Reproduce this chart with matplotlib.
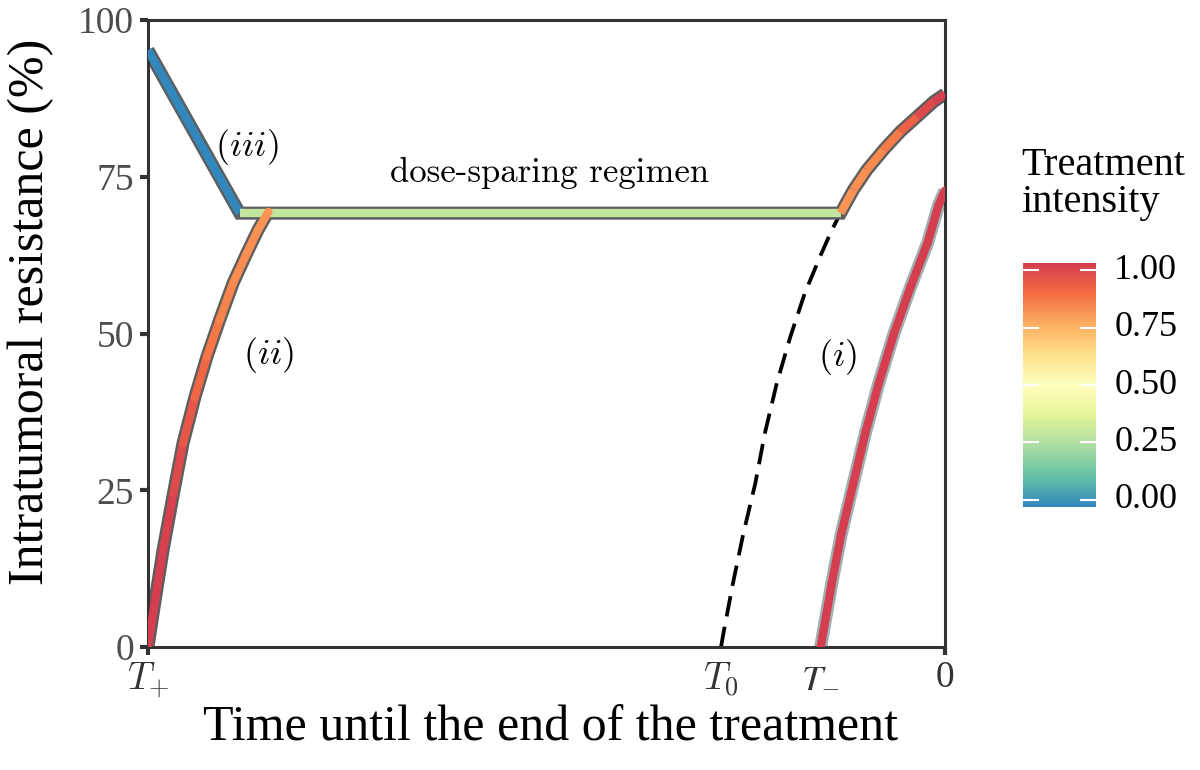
import numpy as np
import matplotlib
matplotlib.use("Agg")
from matplotlib import pyplot as plt
from matplotlib.collections import LineCollection
from matplotlib.colors import LinearSegmentedColormap

plt.rcParams['font.family'] = ['Liberation Serif', 'DejaVu Serif']
plt.rcParams['mathtext.fontset'] = 'cm'

# ColorBrewer Spectral (9 classes), blue -> red
spectral9 = ["#3288bd", "#66c2a5", "#abdda4", "#e6f598", "#ffffbf",
             "#fee08b", "#fdae61", "#f46d43", "#d53e4f"]
cmap = LinearSegmentedColormap.from_list("spectral9_r", spectral9)

# time until end of treatment (T+ = -100, end = 0), resistance in %
# (iii) + dose-sparing plateau + final climb
iii_t = [-100, -88.5]
iii_r = [95.2, 69.2]
iii_c = [0.0, 0.0]
plateau_t = [-88.5, -13.1]
plateau_r = [69.2, 69.2]
plateau_c = [0.3, 0.3]
climb_t = [-13.1, -11.5, -9.8, -7.7, -5.6, -3.5, -1.4, 0]
climb_r = [69.2, 72.9, 76.1, 79.3, 82.2, 84.6, 87.0, 88.2]
climb_c = [0.8, 0.8, 0.81, 0.83, 0.87, 0.94, 0.99, 1.0]

# (ii)
ii_t = [-100, -99.1, -98.1, -96.8, -95.6, -94.1, -92.6, -91.0, -89.3, -87.6, -86.2, -84.9]
ii_r = [0, 7.5, 15.5, 24.5, 32.5, 39.9, 46.3, 52.2, 58.1, 62.8, 66.5, 69.4]
ii_c = [1.0, 1.0, 1.0, 0.98, 0.95, 0.91, 0.87, 0.84, 0.82, 0.81, 0.8, 0.8]

# dashed (untreated extrapolation)
dash_t = [-28.1, -27.8, -26.6, -25.3, -23.8, -22.6, -21.1, -19.4, -17.6, -15.7, -14.2, -13.1]
dash_r = [0, 2.2, 10.2, 18.1, 26.1, 34.1, 42.1, 49.5, 56.4, 62.2, 66.5, 69.2]

# (i)
i_t = [-15.6, -14.2, -13.0, -11.5, -10.0, -8.3, -6.4, -4.3, -2.2, -0.8, 0]
i_r = [0, 10.2, 18.1, 26.1, 34.1, 42.1, 50.0, 57.5, 64.4, 70.5, 72.8]
i_c = [1.0] * len(i_t)

x_ticks = [-100, -28.1, -15.6, 0]
x_labels = [r"$T_{+}$", r"$T_0$", r"$T_{-}$", "0"]
y_ticks = [0, 25, 50, 75, 100]
cbar_ticks = [0.0, 0.25, 0.5, 0.75, 1.0]

OUT_LW = 9.4
CORE_LW = 6.0


def colour_segments(ax, t, r, c, cap="butt"):
    pts = np.column_stack([t, r])
    segs = [pts[k:k + 2] for k in range(len(pts) - 1)]
    lc = LineCollection(segs, cmap=cmap, norm=plt.Normalize(0, 1),
                        linewidths=CORE_LW, capstyle=cap, joinstyle="round", zorder=3)
    lc.set_array(np.array([(c[k] + c[k + 1]) / 2 for k in range(len(c) - 1)]))
    ax.add_collection(lc)


fig = plt.figure(figsize=(12, 7.7), dpi=100)
ax = fig.add_axes([0.1233, 0.1597, 0.6642, 0.8143])

ax.plot(dash_t, dash_r, color="black", lw=2.7, dashes=(5.5, 2.8), zorder=2)

# outline of main trajectory drawn as one path so corners join cleanly
main_t = iii_t + plateau_t[1:] + climb_t[1:]
main_r = iii_r + plateau_r[1:] + climb_r[1:]
ax.plot(main_t, main_r, color="#5e5e5e", lw=OUT_LW, solid_capstyle="butt",
        solid_joinstyle="miter", zorder=2)
for t, r, c in [(iii_t, iii_r, iii_c), (plateau_t, plateau_r, plateau_c),
                (climb_t, climb_r, climb_c)]:
    colour_segments(ax, t, r, c)

ax.plot(ii_t, ii_r, color="#5e5e5e", lw=OUT_LW, solid_capstyle="butt",
        solid_joinstyle="round", zorder=2)
colour_segments(ax, ii_t, ii_r, ii_c, cap="round")

ax.plot(i_t, i_r, color="#9fb0b2", lw=OUT_LW, solid_capstyle="butt",
        solid_joinstyle="round", zorder=2)
colour_segments(ax, i_t, i_r, i_c, cap="round")

ax.text(-87.6, 79.8, r"$(iii)$", fontsize=26, ha="center", va="center")
ax.text(-49.6, 75.6, "dose-sparing regimen", fontsize=25, ha="center",
        va="center", family="cmr10")
ax.text(-84.8, 46.6, r"$(ii)$", fontsize=26, ha="center", va="center")
ax.text(-13.5, 46.2, r"$(i)$", fontsize=26, ha="center", va="center")

ax.set_xlim(-100, 0)
ax.set_ylim(0, 100)
ax.set_xticks(x_ticks)
ax.set_xticklabels(x_labels)
ax.set_yticks(y_ticks)
for k in (1, 2):
    ax.xaxis.get_major_ticks()[k].tick1line.set_visible(False)
# the cm minus does not show in a subscript here, use stix for that label
ax.get_xticklabels()[2].set_math_fontfamily("stix")
ax.tick_params(axis="both", length=6, width=3, color="#333333",
               labelsize=27, labelcolor="#4d4d4d")
ax.tick_params(axis="y", pad=4)
ax.tick_params(axis="x", labelcolor="#333333", pad=4)
for s in ax.spines.values():
    s.set_linewidth(2.2)
    s.set_color("#333333")
ax.set_xlabel("Time until the end of the treatment", fontsize=36)
ax.set_ylabel("Intratumoral resistance (%)", fontsize=36)
ax.xaxis.set_label_coords(0.505, -0.093)
ax.yaxis.set_label_coords(-0.118, 0.535)

# colour bar
cax = fig.add_axes([1023 / 1200, (770 - 507) / 770, 73 / 1200, 244 / 770])
grad = np.linspace(0, 1, 256).reshape(-1, 1)
cax.imshow(grad, cmap=cmap, aspect="auto", origin="lower",
           extent=[0, 1, -0.032, 1.032])
cax.set_xlim(0, 1)
cax.set_ylim(-0.032, 1.032)
for v in cbar_ticks:
    cax.plot([0, 0.2], [v, v], color="white", lw=1.5)
    cax.plot([0.8, 1], [v, v], color="white", lw=1.5)
    cax.text(1.25, v, f"{v:.2f}", fontsize=26, va="center", ha="left",
             transform=cax.transData)
cax.set_xticks([])
cax.set_yticks([])
for s in cax.spines.values():
    s.set_visible(False)
fig.text(1021 / 1200, 1 - 184 / 770, "Treatment\nintensity", fontsize=29,
         ha="left", va="center", linespacing=1.0)

fig.savefig("out.png", dpi=100)
